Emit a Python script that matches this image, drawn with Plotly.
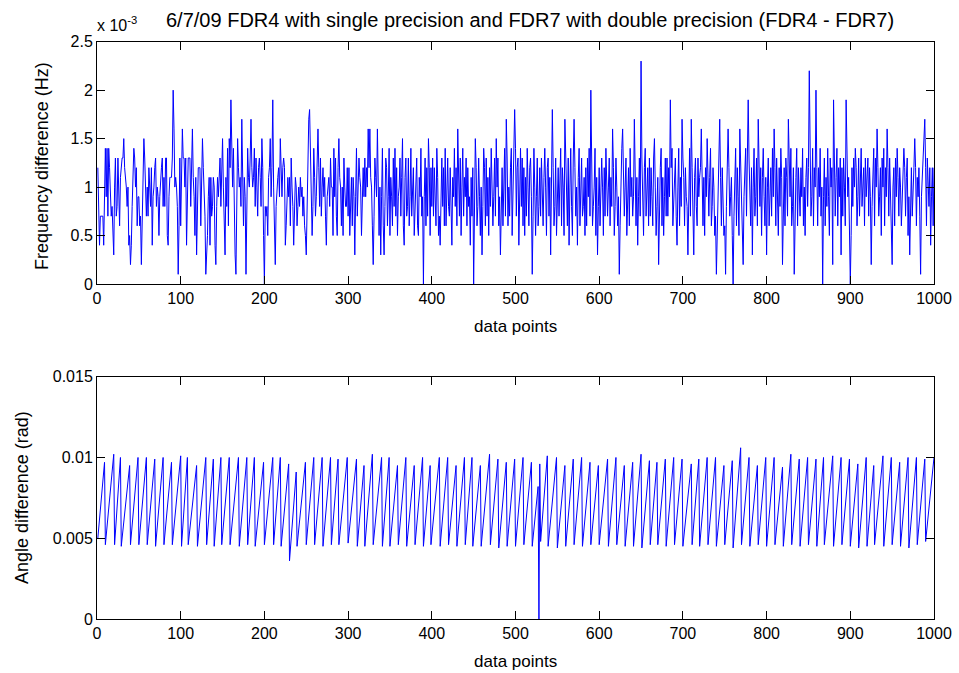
import plotly.graph_objects as go

# ---------------- data ----------------
# Frequency difference FDR4 - FDR7, in units of 1e-4 Hz
freq_diff_e4 = [
    12,6,4,7,7,7,7,4,9,14,9,14,7,14,12,9,7,8,6,3,
    10,13,7,8,13,10,6,11,12,13,13,15,12,11,10,8,10,4,5,2,
    4,8,13,14,13,10,12,6,9,9,6,7,2,7,11,15,13,8,7,10,
    7,12,10,8,12,4,9,10,12,13,8,10,9,5,9,11,12,13,8,11,
    8,13,13,5,4,9,11,11,11,13,20,16,10,11,10,8,1,6,13,6,
    10,16,13,13,10,13,4,9,13,13,13,8,13,16,11,9,5,11,3,9,
    12,12,12,6,10,15,12,9,7,1,3,5,9,11,4,11,7,8,11,10,
    4,2,8,11,9,12,13,8,11,15,10,5,3,11,8,14,6,15,12,19,
    13,10,14,6,3,1,6,15,12,10,11,8,17,13,6,11,9,1,7,14,
    11,10,13,17,12,10,11,14,8,13,10,7,12,13,11,8,15,12,5,0,
    8,7,8,5,11,12,15,9,12,19,10,6,2,8,10,11,12,9,15,12,
    9,12,13,12,4,6,10,11,9,11,6,13,10,8,4,10,11,10,6,8,
    10,8,11,9,10,7,9,6,5,3,8,10,17,18,13,11,5,8,14,11,
    7,9,13,16,12,8,13,7,10,12,9,11,7,4,9,10,11,8,13,10,
    10,5,14,9,13,7,5,12,15,11,10,6,10,5,13,10,8,8,12,7,
    12,5,10,11,6,11,9,3,9,14,7,10,13,11,10,5,9,12,9,13,
    9,12,10,16,12,16,11,10,6,2,7,13,11,9,16,11,5,10,3,9,
    14,6,3,8,13,12,6,9,14,5,11,9,6,13,8,14,7,12,5,9,
    10,13,7,11,15,6,4,11,13,7,8,13,6,9,14,7,10,12,5,8,
    10,13,6,5,11,9,14,7,9,0,9,13,6,12,7,15,12,5,12,8,
    13,7,12,8,6,14,11,5,7,4,10,13,8,12,6,14,6,9,13,8,
    7,12,6,4,11,9,14,8,12,6,16,11,7,13,5,10,14,7,11,9,
    13,6,12,8,9,4,11,7,12,0,9,15,12,6,8,13,9,5,10,3,
    8,14,12,6,13,7,11,5,12,8,14,10,6,9,13,7,15,10,13,6,
    9,3,8,12,6,13,14,7,17,13,6,10,7,12,14,5,9,12,18,14,
    7,12,13,4,9,14,8,13,6,12,5,11,7,14,10,6,12,13,9,1,
    7,14,10,5,9,13,6,8,12,7,13,9,6,11,14,10,5,12,13,7,
    11,3,9,18,12,6,8,13,5,9,12,7,10,14,6,12,10,5,17,12,
    9,6,13,4,10,14,8,5,13,17,12,7,10,4,11,14,6,9,13,7,
    8,11,5,12,6,13,9,14,7,20,13,6,8,10,14,5,11,3,8,12,
    6,9,13,10,5,12,7,14,9,7,10,13,6,11,8,16,12,5,8,13,
    10,6,9,1,6,11,14,16,12,7,10,13,5,8,12,6,14,9,11,7,
    9,17,12,6,11,4,9,13,7,23,13,8,5,12,14,7,9,12,6,13,
    7,12,9,6,13,15,10,5,8,11,2,9,12,14,6,11,5,9,13,7,
    13,7,12,9,19,12,14,6,9,11,13,7,4,10,14,6,11,8,17,13,
    11,6,12,9,8,3,11,14,7,17,12,5,3,11,13,8,6,13,9,11,
    12,16,10,6,11,5,12,9,15,12,7,11,14,6,8,12,10,5,7,1,
    6,10,13,17,11,6,12,9,5,6,1,8,13,16,12,7,9,11,5,0,
    7,11,14,6,12,9,5,16,12,8,6,2,9,11,14,7,12,19,13,8,
    6,12,3,10,14,7,9,13,6,17,13,8,12,5,11,14,9,6,11,3,
    10,13,6,9,12,7,14,9,16,12,6,13,10,5,12,8,14,11,2,9,
    12,6,13,11,7,17,12,9,14,6,8,12,1,9,11,14,6,12,10,7,
    12,9,14,6,10,5,11,13,8,12,22,13,7,9,14,6,12,10,20,12,
    6,12,9,14,7,10,0,9,13,6,11,8,14,9,5,13,10,12,2,19,
    12,7,11,14,6,12,9,13,3,12,7,13,10,6,19,12,9,11,6,0,
    5,12,8,13,10,14,12,6,9,13,7,11,14,8,10,12,6,13,9,11,
    13,7,12,9,2,8,11,14,6,13,10,16,12,7,9,12,5,13,10,14,
    6,12,9,16,12,7,13,10,5,2,10,12,6,13,9,14,11,7,12,10,
    6,9,12,14,12,7,11,13,5,9,3,10,12,7,11,12,15,12,6,11,
    9,12,7,1,9,11,13,15,17,12,6,13,11,8,12,4,9,12,6,12,
]

# Angle difference FDR4 - FDR7, in units of 1e-4 rad (one sawtooth per line)
angle_diff_e4 = [
    50,56,62,68,74,79,85,91,97,
    46,52,57,63,68,74,80,85,91,96,102,
    46,54,61,69,77,85,92,100,
    45,50,55,60,65,70,75,80,85,90,95,
    46,52,58,64,70,76,82,88,94,100,
    46,52,58,64,70,76,82,88,94,100,
    46,52,58,64,70,75,81,87,93,99,
    45,51,57,63,69,76,82,88,94,100,
    46,52,57,63,69,74,80,86,91,97,
    46,52,57,63,68,74,79,85,90,96,101,
    45,53,61,69,76,84,92,100,
    46,51,56,61,66,71,75,80,85,90,95,
    45,51,56,62,67,73,78,84,89,95,100,
    46,53,59,66,73,79,86,92,99,
    45,52,59,66,73,79,86,93,100,
    46,52,58,64,70,76,82,88,94,100,
    46,51,57,62,68,73,78,84,89,95,100,
    45,51,57,63,69,76,82,88,94,100,
    46,53,60,66,73,80,87,93,100,
    45,50,55,61,66,71,76,81,87,92,97,
    46,51,57,62,68,73,78,84,89,95,100,
    46,53,60,66,73,80,87,93,100,
    45,51,56,62,68,73,79,85,90,96,
    36,43,50,57,64,70,77,84,91,
    45,50,55,61,66,71,76,81,87,92,97,
    46,52,58,64,70,76,82,88,94,100,
    46,52,58,64,70,76,82,88,94,100,
    45,51,57,63,69,76,82,88,94,100,
    46,53,59,66,73,79,86,92,99,
    46,51,57,62,68,73,78,84,89,95,100,
    47,52,57,63,68,73,78,83,89,94,99,
    45,51,58,64,70,76,83,89,95,
    45,51,58,64,70,77,83,89,96,102,
    46,51,57,62,68,73,78,84,89,95,100,
    45,52,59,66,73,79,86,93,100,
    45,51,56,62,67,73,78,84,89,95,
    46,52,58,64,70,76,82,88,94,100,
    45,51,56,62,67,73,78,84,89,95,
    46,52,58,64,70,76,82,88,94,100,
    45,51,58,64,70,76,83,89,95,
    46,51,57,62,68,73,78,84,89,95,100,
    45,51,57,63,69,76,82,88,94,100,
    46,51,57,62,68,73,79,84,90,95,
    45,51,57,63,69,76,82,88,94,100,
    46,53,60,66,73,80,87,93,100,
    45,51,56,62,67,73,78,84,89,95,
    45,51,56,62,68,74,79,85,91,96,102,
    46,52,58,64,70,75,81,87,93,99,
    44,50,56,62,68,73,79,85,91,97,
    45,51,57,63,69,75,81,87,93,99,
    45,51,57,63,69,76,82,88,94,100,
    46,52,57,63,69,74,80,86,91,97,
    45,50,56,61,66,71,77,82,0,96,
    48,55,61,68,75,81,88,94,101,
    45,51,56,62,67,73,78,84,89,95,100,
    44,50,55,61,67,72,78,84,89,95,
    45,51,57,63,69,75,81,87,93,99,
    46,52,58,64,70,76,82,88,94,100,
    45,51,57,62,68,74,80,85,91,97,
    46,51,57,62,68,73,79,84,90,95,
    46,51,57,62,67,73,78,83,88,94,99,
    45,51,57,63,69,76,82,88,94,100,
    46,51,57,62,68,73,79,84,90,95,
    45,51,57,62,68,74,80,85,91,97,
    45,51,58,64,70,77,83,89,96,102,
    44,50,56,62,68,74,80,86,92,98,
    46,52,59,65,72,78,84,91,97,
    46,52,58,64,70,75,81,87,93,99,
    45,51,57,63,69,76,82,88,94,100,
    46,52,58,64,70,75,81,87,93,99,
    45,50,55,60,65,71,76,81,86,91,96,
    46,53,59,66,73,79,86,92,99,
    45,51,57,63,69,76,82,88,94,100,
    46,52,58,64,70,76,82,88,94,100,
    45,51,56,62,67,73,78,84,89,95,
    46,52,58,63,69,75,81,86,92,98,
    44,51,58,65,72,78,85,92,99,106,
    46,52,58,64,70,76,82,88,94,100,
    45,51,56,62,67,73,78,84,89,95,
    46,52,58,64,70,76,82,88,94,100,
    45,51,57,63,69,76,82,88,94,100,
    46,51,57,62,67,73,78,83,89,94,
    45,51,58,64,70,77,83,89,96,102,
    46,52,58,64,70,75,81,87,93,99,
    45,51,57,63,69,76,82,88,94,100,
    46,52,58,64,70,75,81,87,93,99,
    45,52,59,66,73,79,86,93,100,
    46,52,57,63,68,74,79,85,90,96,101,
    45,51,57,63,69,76,82,88,94,100,
    46,52,58,64,70,75,81,87,93,99,
    45,51,56,62,68,73,79,85,90,96,
    44,50,56,63,69,75,81,88,94,100,
    45,51,58,64,70,76,83,89,95,
    46,52,57,63,68,74,79,85,90,96,101,
    45,51,57,63,69,76,82,88,94,100,
    46,52,57,63,69,74,80,86,91,97,
    45,51,57,63,69,76,82,88,94,100,
    44,50,56,63,69,75,81,88,94,100,
    46,52,58,64,70,75,81,87,93,99,
    48,53,58,64,69,74,79,84,90,95,100,
]

x_ticks = [0, 100, 200, 300, 400, 500, 600, 700, 800, 900, 1000]
x_tick_labels = ["0", "100", "200", "300", "400", "500", "600", "700", "800", "900", "1000"]
freq_ticks = [0, 0.0005, 0.001, 0.0015, 0.002, 0.0025]
freq_tick_labels = ["0", "0.5", "1", "1.5", "2", "2.5"]
angle_ticks = [0, 0.005, 0.01, 0.015]
angle_tick_labels = ["0", "0.005", "0.01", "0.015"]

title_text = "6/7/09 FDR4 with single precision and FDR7 with double precision (FDR4 - FDR7)"

# ---------------- figure ----------------
W, H = 959, 673
FONT = "Liberation Sans, Arial, Helvetica, sans-serif"

def fx(p):
    return p / W

def fy(p):
    return 1 - p / H

freq_hz = [v * 1e-4 for v in freq_diff_e4]
angle_rad = [v * 1e-4 for v in angle_diff_e4]
x_freq = list(range(1, len(freq_hz) + 1))
x_angle = list(range(1, len(angle_rad) + 1))

fig = go.Figure()
fig.add_trace(go.Scatter(x=x_freq, y=freq_hz, mode="lines",
                         line=dict(color="#0000ff", width=1),
                         xaxis="x", yaxis="y", hoverinfo="skip"))
fig.add_trace(go.Scatter(x=x_angle, y=angle_rad, mode="lines",
                         line=dict(color="#0000ff", width=1),
                         xaxis="x2", yaxis="y2", hoverinfo="skip"))

common = dict(showline=True, linecolor="black", linewidth=1, mirror="ticks",
              ticks="inside", ticklen=8, tickwidth=1, tickcolor="black",
              showgrid=False, zeroline=False, automargin=False,
              tickfont=dict(family=FONT, size=16, color="black"))

L, R = 97, 934
fig.update_layout(
    width=W, height=H, autosize=False,
    margin=dict(l=0, r=0, t=0, b=0, pad=0, autoexpand=False),
    paper_bgcolor="white", plot_bgcolor="white",
    showlegend=False,
    xaxis=dict(domain=[fx(L), fx(R)], range=[0, 1000], anchor="y",
               tickvals=x_ticks, ticktext=x_tick_labels, **common),
    yaxis=dict(domain=[fy(284), fy(41.7)], range=[0, 0.0025], anchor="x",
               tickvals=freq_ticks, ticktext=freq_tick_labels, **common),
    xaxis2=dict(domain=[fx(L), fx(R)], range=[0, 1000], anchor="y2",
                tickvals=x_ticks, ticktext=x_tick_labels, **common),
    yaxis2=dict(domain=[fy(619), fy(376.7)], range=[0, 0.015], anchor="x2",
                tickvals=angle_ticks, ticktext=angle_tick_labels, **common),
)

ann = []
ann.append(dict(text=title_text, x=fx(529.5), y=fy(20), xref="paper", yref="paper",
                xanchor="center", yanchor="middle", showarrow=False,
                font=dict(family=FONT, size=20, color="black")))
ann.append(dict(text="x 10<sup>-3</sup>", x=fx(95), y=fy(24), xref="paper", yref="paper",
                xanchor="left", yanchor="middle", showarrow=False,
                font=dict(family=FONT, size=16, color="black")))
ann.append(dict(text="data points", x=fx(515.5), y=fy(326), xref="paper", yref="paper",
                xanchor="center", yanchor="middle", showarrow=False,
                font=dict(family=FONT, size=17, color="black")))
ann.append(dict(text="data points", x=fx(515.5), y=fy(661), xref="paper", yref="paper",
                xanchor="center", yanchor="middle", showarrow=False,
                font=dict(family=FONT, size=17, color="black")))
ann.append(dict(text="Frequency difference (Hz)", x=fx(42), y=fy(166), xref="paper", yref="paper",
                xanchor="center", yanchor="middle", showarrow=False, textangle=-90,
                font=dict(family=FONT, size=18, color="black")))
ann.append(dict(text="Angle difference (rad)", x=fx(22), y=fy(498), xref="paper", yref="paper",
                xanchor="center", yanchor="middle", showarrow=False, textangle=-90,
                font=dict(family=FONT, size=18, color="black")))
fig.update_layout(annotations=ann)

fig.write_html("out.html")
